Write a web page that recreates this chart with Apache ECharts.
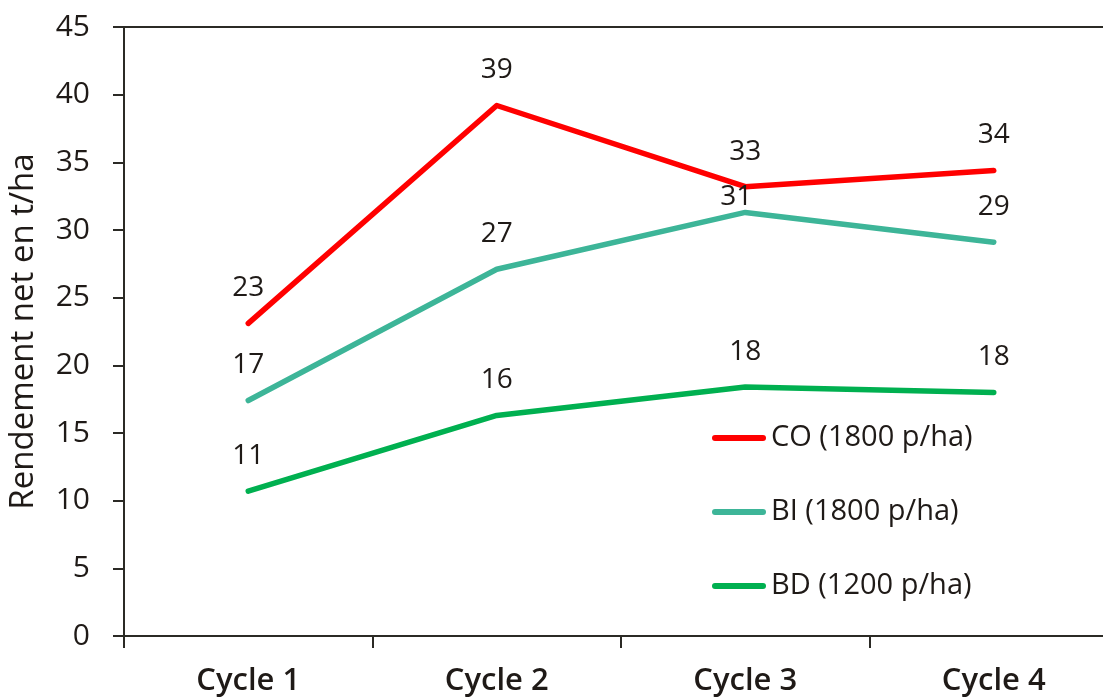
<!DOCTYPE html>
<html>
<head>
<meta charset="utf-8">
<script src="https://cdn.jsdelivr.net/npm/echarts@6/dist/echarts.min.js"></script>
<style>html,body{margin:0;padding:0;background:#fff;}#c{width:1103px;height:700px;}</style>
</head>
<body>
<div id="c"></div>
<script>
const categories = ['Cycle 1', 'Cycle 2', 'Cycle 3', 'Cycle 4'];
const seriesNames = ['CO (1800 p/ha)', 'BI (1800 p/ha)', 'BD (1200 p/ha)'];
const coValues = [23.1, 39.2, 33.2, 34.4];
const biValues = [17.4, 27.1, 31.3, 29.1];
const bdValues = [10.7, 16.3, 18.4, 18.0];
const colors = ['#FF0000', '#3DB598', '#00B050'];
const yTicks = [0, 5, 10, 15, 20, 25, 30, 35, 40, 45];

const textColor = '#1f1a17';
const axisColor = '#2b2a25';
const font = 'Open Sans';

function mk(name, values, color, special) {
  return {
    name: name,
    type: 'line',
    symbol: 'circle',
    symbolSize: 0.1,
    showSymbol: true,
    data: values.map((v, i) => {
      if (special && special[i]) return { value: v, label: special[i] };
      return v;
    }),
    lineStyle: { color: color, width: 5.5, cap: 'round', join: 'round' },
    itemStyle: { color: color },
    label: {
      show: true, position: 'top', distance: 21,
      fontFamily: font, fontSize: 28, color: textColor, lineHeight: 28,
      formatter: p => String(Math.round(p.value))
    },
    z: 3
  };
}

const chart = echarts.init(document.getElementById('c'));
chart.setOption({
  animation: false,
  backgroundColor: '#fff',
  textStyle: { fontFamily: font },
  grid: { left: 124, right: -15, top: 27, bottom: 64, containLabel: false, outerBoundsMode: 'none' },
  legend: {
    orient: 'vertical', left: 712, top: 423, padding: 0,
    itemWidth: 54, itemHeight: 6, itemGap: 44,
    icon: 'path://M3,0 H51 A3,3 0 0 1 51,6 H3 A3,3 0 0 1 3,0 Z',
    data: seriesNames,
    textStyle: { fontFamily: font, fontSize: 29, color: textColor, lineHeight: 30 }
  },
  xAxis: [{
    type: 'category', data: categories, boundaryGap: true,
    axisLine: { lineStyle: { color: axisColor, width: 2 } },
    axisTick: { show: true, length: 12, lineStyle: { color: axisColor, width: 2 } },
    axisLabel: { margin: 30, fontFamily: font, fontSize: 31, fontWeight: 600, color: textColor }
  }, {
    type: 'category', data: categories, position: 'top',
    axisLine: { show: true, lineStyle: { color: axisColor, width: 2 } },
    axisTick: { show: false }, axisLabel: { show: false }, splitLine: { show: false }
  }],
  yAxis: {
    type: 'value', min: 0, max: 45, interval: 5,
    name: 'Rendement net en t/ha', nameLocation: 'middle', nameRotate: 90, nameGap: 84,
    nameTextStyle: { fontFamily: font, fontSize: 33, color: textColor },
    axisLine: { show: true, lineStyle: { color: axisColor, width: 2 } },
    axisTick: { show: true, length: 11, lineStyle: { color: axisColor, width: 2 } },
    splitLine: { show: false },
    axisLabel: { margin: 34, fontFamily: font, fontSize: 30, color: textColor,
      formatter: v => yTicks.includes(v) ? String(v) : '' }
  },
  series: [
    mk(seriesNames[0], coValues, colors[0]),
    mk(seriesNames[1], biValues, colors[1], { 2: { distance: 1, offset: [-9, 0] } }),
    mk(seriesNames[2], bdValues, colors[2])
  ]
});
</script>
</body>
</html>
